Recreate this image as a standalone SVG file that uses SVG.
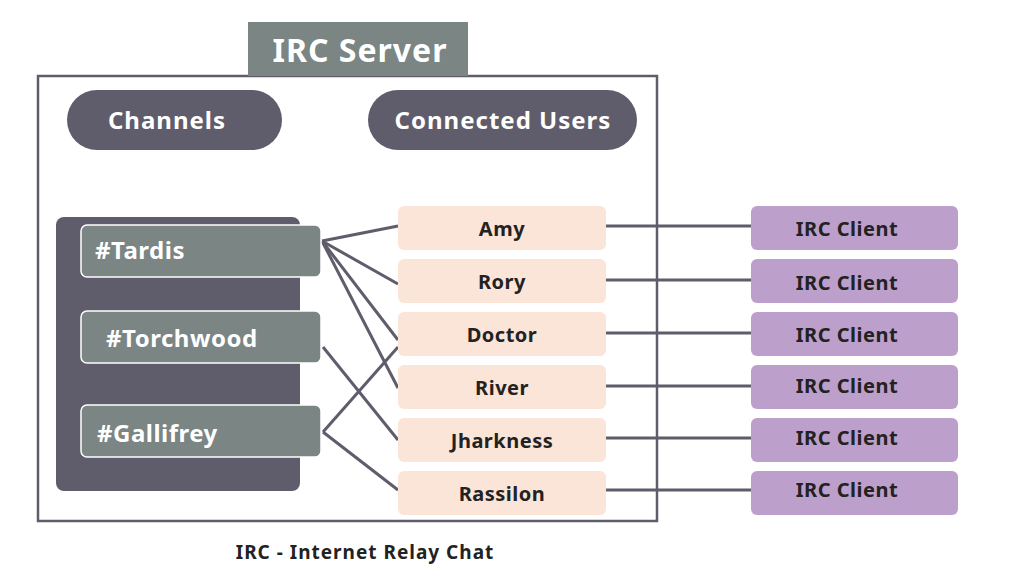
<svg xmlns="http://www.w3.org/2000/svg" width="1024" height="577" viewBox="0 0 1024 577">
<style>
text{font-family:"Noto Sans","Open Sans",sans-serif;font-weight:bold;}
.pill{fill:#5f5c6b;}
.pt{fill:#fff;font-size:24px;text-anchor:middle;letter-spacing:1px;}
.ch{fill:#7a8584;stroke:#fff;stroke-width:1.5;}
.ct{fill:#fff;font-size:24px;letter-spacing:0.5px;}
.u{fill:#fbe4d8;}
.ut{fill:#222;font-size:20px;text-anchor:middle;letter-spacing:0.5px;}
.c{fill:#bd9fcb;}
.cl line{stroke:#5f5c6b;stroke-width:3;}
</style>
<rect width="1024" height="577" fill="#fff"/>
<g id="server">
<rect x="38" y="76" width="619" height="445" fill="none" stroke="#5f5c6b" stroke-width="2.5"/>
<rect x="248" y="22" width="220" height="54" fill="#7a8584"/>
<text x="360" y="62" fill="#fff" font-size="32" text-anchor="middle" letter-spacing="1">IRC Server</text>
</g>
<g id="pill-channels"><rect class="pill" x="67" y="90" width="215" height="60" rx="30"/><text class="pt" x="167" y="129">Channels</text></g>
<g id="pill-users"><rect class="pill" x="368" y="90" width="269" height="60" rx="30"/><text class="pt" x="503" y="129">Connected Users</text></g>
<g id="channels-panel"><rect x="56" y="217" width="244" height="274" rx="8" fill="#5f5c6b"/></g>
<g class="cl" id="connectors">
<line x1="322" y1="241" x2="398" y2="226"/>
<line x1="322" y1="241" x2="398" y2="284"/>
<line x1="322" y1="241" x2="398" y2="340"/>
<line x1="322" y1="241" x2="398" y2="388"/>
<line x1="323" y1="347" x2="398" y2="440"/>
<line x1="323" y1="432" x2="398" y2="347"/>
<line x1="323" y1="432" x2="398" y2="490"/>
<line x1="606" y1="226" x2="751" y2="226"/>
<line x1="606" y1="280" x2="751" y2="280"/>
<line x1="606" y1="333" x2="751" y2="333"/>
<line x1="606" y1="386" x2="751" y2="386"/>
<line x1="606" y1="438" x2="751" y2="438"/>
<line x1="606" y1="490" x2="751" y2="490"/>
</g>
<g id="ch-tardis"><rect class="ch" x="81" y="225" width="240" height="52" rx="6"/><text class="ct" x="95" y="259">#Tardis</text></g>
<g id="ch-torchwood"><rect class="ch" x="81" y="311" width="240" height="52" rx="6"/><text class="ct" x="106" y="347">#Torchwood</text></g>
<g id="ch-gallifrey"><rect class="ch" x="81" y="405" width="240" height="52" rx="6"/><text class="ct" x="97" y="442">#Gallifrey</text></g>
<g id="u-amy"><rect class="u" x="398" y="206" width="208" height="44" rx="6"/><text class="ut" x="502" y="236">Amy</text></g>
<g id="u-rory"><rect class="u" x="398" y="259" width="208" height="44" rx="6"/><text class="ut" x="502" y="289">Rory</text></g>
<g id="u-doctor"><rect class="u" x="398" y="312" width="208" height="44" rx="6"/><text class="ut" x="502" y="342">Doctor</text></g>
<g id="u-river"><rect class="u" x="398" y="365" width="208" height="44" rx="6"/><text class="ut" x="502" y="395">River</text></g>
<g id="u-jharkness"><rect class="u" x="398" y="418" width="208" height="44" rx="6"/><text class="ut" x="502" y="448">Jharkness</text></g>
<g id="u-rassilon"><rect class="u" x="398" y="471" width="208" height="44" rx="6"/><text class="ut" x="502" y="501">Rassilon</text></g>
<g id="c1"><rect class="c" x="751" y="206" width="207" height="44" rx="6"/><text class="ut" x="847" y="236">IRC Client</text></g>
<g id="c2"><rect class="c" x="751" y="259" width="207" height="44" rx="6"/><text class="ut" x="847" y="290">IRC Client</text></g>
<g id="c3"><rect class="c" x="751" y="312" width="207" height="44" rx="6"/><text class="ut" x="847" y="342">IRC Client</text></g>
<g id="c4"><rect class="c" x="751" y="365" width="207" height="44" rx="6"/><text class="ut" x="847" y="393">IRC Client</text></g>
<g id="c5"><rect class="c" x="751" y="418" width="207" height="44" rx="6"/><text class="ut" x="847" y="445">IRC Client</text></g>
<g id="c6"><rect class="c" x="751" y="471" width="207" height="44" rx="6"/><text class="ut" x="847" y="497">IRC Client</text></g>
<text x="365" y="559" fill="#222" font-size="19" text-anchor="middle" letter-spacing="1">IRC - Internet Relay Chat</text>
</svg>
